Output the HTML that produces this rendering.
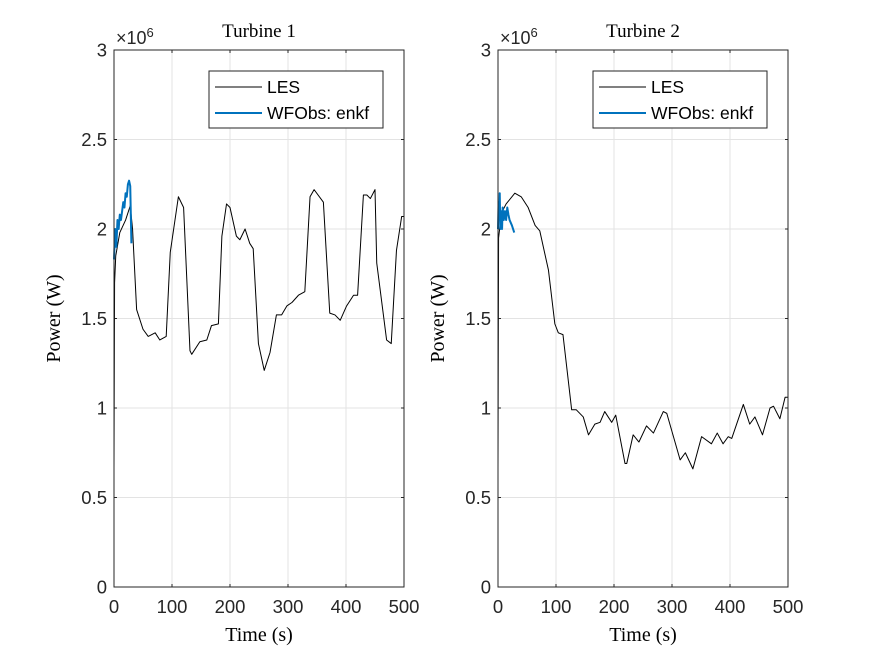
<!DOCTYPE html>
<html><head><meta charset="utf-8"><style>
body{margin:0;background:#fff}
svg{display:block;font-family:"Liberation Sans",sans-serif}
.serif{font-family:"Liberation Serif",serif}
</style></head><body>
<svg id="c" width="875" height="656" viewBox="0 0 875 656"></svg>
<script>
const xTicks=[0,100,200,300,400,500];
const yTicks=[0,0.5,1,1.5,2,2.5,3];
const yTickLabels=["0","0.5","1","1.5","2","2.5","3"];
const t1LesT=[0,1,3,10,20,28,32,39,50,59,71,79,90,97,111,120,131,134,148,160,168,180,186,194,200,211,217,226,234,240,249,259,269,280,289,298,307,318,329,338,345,361,372,381,390,401,413,420,430,436,442,450,453,470,478,487,496,500];
const t1LesP=[0.65,1.7,1.85,1.98,2.05,2.13,2.0,1.55,1.44,1.40,1.42,1.38,1.40,1.87,2.18,2.12,1.32,1.30,1.37,1.38,1.46,1.47,1.96,2.14,2.12,1.96,1.94,2.00,1.92,1.89,1.36,1.21,1.31,1.52,1.52,1.57,1.59,1.63,1.65,2.18,2.22,2.15,1.53,1.52,1.49,1.57,1.63,1.63,2.19,2.19,2.17,2.22,1.81,1.38,1.36,1.88,2.07,2.07];
const t1ObsT=[0,2,4,6,8,10,12,14,16,18,20,22,24,26,28,30];
const t1ObsP=[1.83,2.0,1.9,2.05,2.0,2.08,2.05,2.1,2.15,2.12,2.2,2.18,2.25,2.27,2.24,1.92];
const t2LesT=[0,1,6,14,29,40,52,64,72,87,98,104,112,127,135,147,156,167,176,184,196,203,219,222,233,243,256,268,285,291,314,323,336,351,368,378,388,397,403,423,434,443,456,469,475,486,495,500];
const t2LesP=[0.65,1.95,2.09,2.14,2.20,2.18,2.12,2.02,1.99,1.77,1.47,1.42,1.41,0.99,0.99,0.95,0.85,0.91,0.92,0.98,0.92,0.96,0.69,0.69,0.85,0.81,0.90,0.86,0.98,0.97,0.71,0.75,0.66,0.84,0.80,0.86,0.80,0.84,0.83,1.02,0.91,0.95,0.85,1.00,1.01,0.94,1.06,1.06];
const t2ObsT=[0,1,2,3,4,5,7,8,10,12,14,16,18,20,24,28];
const t2ObsP=[2.0,2.15,2.05,2.2,2.0,2.1,2.0,2.12,2.05,2.1,2.05,2.12,2.08,2.05,2.02,1.98];

const NS="http://www.w3.org/2000/svg";
const svgEl=document.getElementById('c');
function mk(tag,attrs,parent,text){const e=document.createElementNS(NS,tag);for(const k in attrs)e.setAttribute(k,attrs[k]);if(text!==undefined)e.textContent=text;(parent||svgEl).appendChild(e);return e;}
const axTop=50,axBot=587;
function panel(idx,left,title,lesT,lesP,obsT,obsP){
  const right=left+290;
  const g=mk('g',{});
  
  
  const sx=t=>left+t*(right-left)/500;
  const sy=p=>axBot-p*(axBot-axTop)/3;
  mk('rect',{x:left,y:axTop,width:290,height:axBot-axTop,fill:'#fff'},g);
  xTicks.forEach(t=>{
    const x=sx(t);
    const gl=mk('line',{x1:x,y1:axTop,x2:x,y2:axBot,stroke:'#e3e3e3','stroke-width':1},g);
    
    
    mk('line',{x1:x,y1:axBot,x2:x,y2:axBot-3,stroke:'#262626'},g);
    mk('line',{x1:x,y1:axTop,x2:x,y2:axTop+3,stroke:'#262626'},g);
    const l=mk('text',{x:x,y:613,'text-anchor':'middle','font-size':18.5,fill:'#262626'},g,String(t));
    
    
  });
  yTicks.forEach((p,i)=>{
    const y=sy(p);
    const gl=mk('line',{x1:left,y1:y,x2:right,y2:y,stroke:'#e3e3e3','stroke-width':1},g);
    
    
    mk('line',{x1:left,y1:y,x2:left+3,y2:y,stroke:'#262626'},g);
    mk('line',{x1:right,y1:y,x2:right-3,y2:y,stroke:'#262626'},g);
    const l=mk('text',{x:left-7,y:y+6.5,'text-anchor':'end','font-size':18.5,fill:'#262626'},g,yTickLabels[i]);
    
    
  });
  const les=mk('polyline',{points:lesT.map((t,i)=>sx(t)+','+sy(lesP[i])).join(' '),fill:'none',stroke:'#000','stroke-width':1,'stroke-linejoin':'round'},g);
  
  
  const obs=mk('polyline',{points:obsT.map((t,i)=>sx(t)+','+sy(obsP[i])).join(' '),fill:'none',stroke:'#0072bd','stroke-width':2,'stroke-linejoin':'round'},g);
  
  
  mk('rect',{x:left,y:axTop,width:290,height:axBot-axTop,fill:'none',stroke:'#262626','stroke-width':1},g);
  const tt=mk('text',{x:(left+right)/2,y:37,'text-anchor':'middle','font-size':19,fill:'#000',class:'serif'},g,title);
  
  
  const ex=mk('text',{x:left+2,y:44,'font-size':18,fill:'#262626'},g);
  
  
  mk('tspan',{},ex,'×10');mk('tspan',{dy:-7,'font-size':13},ex,'6');
  const yl=mk('text',{x:0,y:0,transform:`translate(${left-54},${(axTop+axBot)/2}) rotate(-90)`,'text-anchor':'middle','font-size':20,fill:'#000',class:'serif'},g,'Power (W)');
  
  
  const xl=mk('text',{x:(left+right)/2,y:641,'text-anchor':'middle','font-size':20,fill:'#000',class:'serif'},g,'Time (s)');
  
  
  const lg=mk('g',{},g);
  
  
  const lx=left+95;
  mk('rect',{x:lx,y:71,width:174,height:57,fill:'#fff',stroke:'#262626','stroke-width':1},lg);
  mk('line',{x1:lx+6,y1:87,x2:lx+53,y2:87,stroke:'#000','stroke-width':1},lg);
  const e1=mk('text',{x:lx+58,y:93,'font-size':17.5,fill:'#000'},lg,'LES');
  
  
  mk('line',{x1:lx+6,y1:113,x2:lx+53,y2:113,stroke:'#0072bd','stroke-width':2},lg);
  const e2=mk('text',{x:lx+58,y:119,'font-size':17.5,fill:'#000'},lg,'WFObs: enkf');
  
  
}
panel(1,114,'Turbine 1',t1LesT,t1LesP,t1ObsT,t1ObsP);
panel(2,498,'Turbine 2',t2LesT,t2LesP,t2ObsT,t2ObsP);
</script>
</body></html>
